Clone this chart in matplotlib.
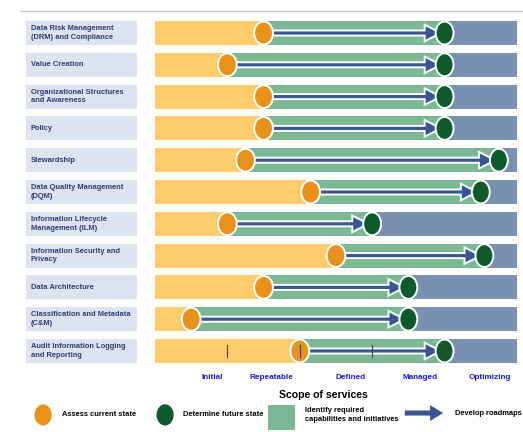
import numpy as np
import matplotlib.pyplot as plt
from matplotlib.patches import Rectangle, Ellipse, FancyArrow

# maturity scale 0..100 across the bar
areas = ['Data Risk Management\n(DRM) and Compliance', 'Value Creation',
         'Organizational Structures\nand Awareness', 'Policy', 'Stewardship',
         'Data Quality Management\n(DQM)', 'Information Lifecycle\nManagement (ILM)',
         'Information Security and\nPrivacy', 'Data Architecture',
         'Classification and Metadata\n(C&M)', 'Audit Information Logging\nand Reporting']
current = [30, 20, 30, 30, 25, 43, 20, 50, 30, 10, 40]
future = [80, 80, 80, 80, 95, 90, 60, 91, 70, 70, 80]
levels = ['Initial', 'Repeatable', 'Defined', 'Managed', 'Optimizing']
level_pos = [15.7, 32.3, 54.1, 73.2, 92.5]
audit_ticks = [20, 40, 60, 80]

ORANGE = '#FECC6A'
GREEN = '#7DB894'
BLUE = '#7990B1'
ARROW = '#3A5594'
NAVY = '#2B3D78'
font = ['Liberation Sans', 'DejaVu Sans']

fig = plt.figure(figsize=(5.23, 4.32), dpi=100)
ax = fig.add_axes([0, 0, 1, 1])
ax.set_xlim(-42.8, 101.66)
ax.set_ylim(12.547, -1.038)
ax.axis('off')

h = 0.75
ew, eh = 5.2, 0.72
ax.plot([-37.3, 101.66], [-0.69, -0.69], color='#C8C8C8', lw=1)

for i, name in enumerate(areas):
    c, f = current[i], future[i]
    ax.add_patch(Rectangle((-35.6, i - h/2), 30.6, h, fc='#DDE4EF', ec='none'))
    ax.text(-34.3, i, name, ha='left', va='center', fontsize=5.4, color=NAVY,
            fontweight='bold', family=font, linespacing=1.35)
    ax.add_patch(Rectangle((0, i - h/2), c, h, fc=ORANGE, ec='none'))
    ax.add_patch(Rectangle((c, i - h/2), f - c, h, fc=GREEN, ec='none'))
    ax.add_patch(Rectangle((f, i - h/2), 100 - f, h, fc=BLUE, ec='none'))
    ax.add_patch(FancyArrow(c + 2.4, i, (f - 1.0) - (c + 2.4), 0, width=0.16,
                            head_width=0.52, head_length=4.5, length_includes_head=True,
                            fc=ARROW, ec='white', lw=1.4, zorder=3))
    ax.add_patch(Ellipse((c, i), ew, eh, fc='#E8921C', ec='white', lw=1.4, zorder=4))
    ax.add_patch(Ellipse((f, i), ew * 0.95, eh, fc='#0D5A2B', ec='white', lw=1.4, zorder=4))

last = len(areas) - 1
for t in audit_ticks:
    ax.plot([t, t], [last - 0.18, last + 0.18], color='#444444', lw=0.8, zorder=5)

for lab, p in zip(levels, level_pos):
    ax.text(p, 10.82, lab, ha='center', va='center', fontsize=5.9, color='#1818E0',
            fontweight='bold', family=font)

ax.text(46.4, 11.38, 'Scope of services', ha='center', va='center', fontsize=7.6,
        fontweight='bold', family=font, color='black')

# legend
ly = 12.01
ax.add_patch(Ellipse((-30.9, ly), ew, eh, fc='#E8921C', ec='white', lw=1.2))
ax.text(-25.7, ly, 'Assess current state', ha='left', va='center', fontsize=5.4,
        family=font, fontweight='bold')
ax.add_patch(Ellipse((2.8, ly), ew, eh, fc='#0D5A2B', ec='white', lw=1.2))
ax.text(7.7, ly, 'Determine future state', ha='left', va='center', fontsize=5.4,
        family=font, fontweight='bold')
ax.add_patch(Rectangle((31.2, 11.7), 7.5, 0.78, fc=GREEN, ec='none'))
ax.text(41.4, ly, 'Identify required\ncapabilities and initiatives', ha='left',
        va='center', fontsize=5.4, family=font, fontweight='bold', linespacing=1.35)
ax.add_patch(FancyArrow(69, 11.95, 10.6, 0, width=0.16, head_width=0.5,
                        head_length=3.6, length_includes_head=True, fc=ARROW, ec='none'))
ax.text(82.9, 11.95, 'Develop roadmaps', ha='left', va='center', fontsize=5.4,
        family=font, fontweight='bold')

fig.savefig('out.png', dpi=100)
